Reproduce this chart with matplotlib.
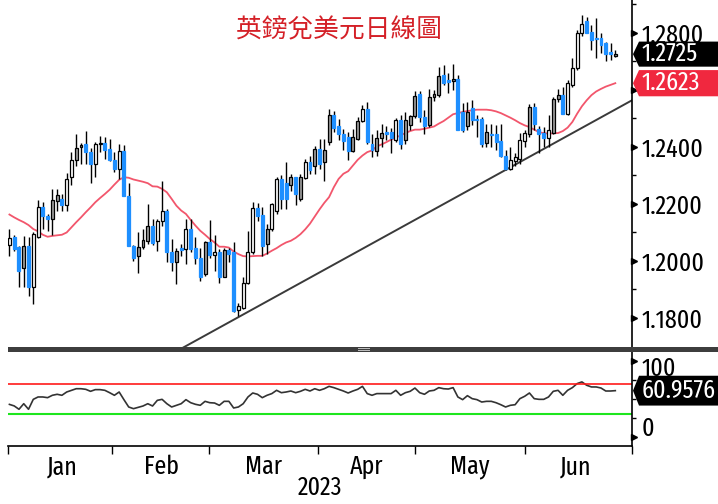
import matplotlib
matplotlib.use('Agg')
import numpy as np
import matplotlib.pyplot as plt
import matplotlib.transforms as mtransforms
from matplotlib import font_manager
from matplotlib.font_manager import FontProperties
from matplotlib.ft2font import FT2Font
from matplotlib.patches import Polygon, Rectangle

# Datos diarios GBP/USD (ene-jun 2023)
opens = [1.2055, 1.2084, 1.2047, 1.1976, 1.2052, 1.1906, 1.2082, 1.2187, 1.2158, 1.2146,
         1.2211, 1.2215, 1.2197, 1.2293, 1.2352, 1.2400, 1.2411, 1.2381, 1.2338, 1.2408,
         1.2414, 1.2393, 1.2354, 1.2322, 1.2385, 1.2228, 1.2052, 1.2017, 1.2047, 1.2070,
         1.2123, 1.2070, 1.2141, 1.2176, 1.2029, 1.1994, 1.2044, 1.2041, 1.2111, 1.2044,
         1.2011, 1.1953, 1.2064, 1.2021, 1.2032, 1.1943, 1.2037, 1.2029, 1.1826, 1.1835,
         1.1920, 1.2029, 1.2185, 1.2162, 1.2058, 1.2111, 1.2176, 1.2287, 1.2272, 1.2267,
         1.2293, 1.2217, 1.2291, 1.2346, 1.2334, 1.2393, 1.2346, 1.2416, 1.2511, 1.2471,
         1.2446, 1.2434, 1.2385, 1.2428, 1.2490, 1.2534, 1.2411, 1.2385, 1.2432, 1.2450,
         1.2451, 1.2422, 1.2495, 1.2422, 1.2475, 1.2507, 1.2584, 1.2504, 1.2475, 1.2573,
         1.2581, 1.2651, 1.2633, 1.2630, 1.2636, 1.2522, 1.2472, 1.2537, 1.2499, 1.2499,
         1.2413, 1.2446, 1.2443, 1.2420, 1.2369, 1.2323, 1.2349, 1.2358, 1.2420, 1.2446,
         1.2539, 1.2463, 1.2448, 1.2432, 1.2448, 1.2566, 1.2583, 1.2516, 1.2616, 1.2675,
         1.2798, 1.2842, 1.2804, 1.2780, 1.2780, 1.2763, 1.2733, 1.2720]
highs = [1.2112, 1.2090, 1.2052, 1.2088, 1.2082, 1.2100, 1.2213, 1.2205, 1.2165, 1.2252,
         1.2252, 1.2235, 1.2307, 1.2381, 1.2443, 1.2412, 1.2455, 1.2395, 1.2416, 1.2436,
         1.2434, 1.2428, 1.2381, 1.2411, 1.2405, 1.2272, 1.2055, 1.2099, 1.2111, 1.2199,
         1.2146, 1.2146, 1.2281, 1.2180, 1.2076, 1.2046, 1.2058, 1.2146, 1.2146, 1.2082,
         1.2046, 1.2070, 1.2143, 1.2091, 1.2041, 1.2046, 1.2044, 1.2064, 1.1853, 1.1941,
         1.2105, 1.2205, 1.2201, 1.2187, 1.2129, 1.2201, 1.2293, 1.2299, 1.2346, 1.2305,
         1.2293, 1.2305, 1.2358, 1.2369, 1.2401, 1.2428, 1.2428, 1.2534, 1.2525, 1.2499,
         1.2463, 1.2451, 1.2463, 1.2504, 1.2546, 1.2557, 1.2446, 1.2457, 1.2481, 1.2471,
         1.2464, 1.2500, 1.2510, 1.2522, 1.2510, 1.2596, 1.2596, 1.2528, 1.2604, 1.2598,
         1.2680, 1.2686, 1.2659, 1.2690, 1.2651, 1.2553, 1.2557, 1.2563, 1.2510, 1.2505,
         1.2481, 1.2481, 1.2475, 1.2478, 1.2389, 1.2399, 1.2378, 1.2448, 1.2457, 1.2551,
         1.2553, 1.2471, 1.2469, 1.2510, 1.2573, 1.2604, 1.2608, 1.2633, 1.2710, 1.2810,
         1.2862, 1.2856, 1.2827, 1.2851, 1.2800, 1.2766, 1.2763, 1.2740]
lows = [1.2015, 1.2035, 1.1906, 1.1906, 1.1876, 1.1847, 1.2078, 1.2111, 1.2105, 1.2091,
        1.2176, 1.2176, 1.2176, 1.2264, 1.2334, 1.2340, 1.2340, 1.2272, 1.2293, 1.2381,
        1.2358, 1.2350, 1.2311, 1.2287, 1.2228, 1.2052, 1.1999, 1.1958, 1.2040, 1.2060,
        1.2055, 1.2035, 1.2123, 1.1994, 1.1964, 1.1917, 1.2017, 1.1988, 1.2029, 1.1988,
        1.1929, 1.1947, 1.2011, 1.1964, 1.1923, 1.1941, 1.1994, 1.1820, 1.1806, 1.1830,
        1.1918, 1.2025, 1.2141, 1.2017, 1.2023, 1.2105, 1.2164, 1.2182, 1.2182, 1.2246,
        1.2197, 1.2211, 1.2287, 1.2305, 1.2305, 1.2323, 1.2281, 1.2405, 1.2451, 1.2422,
        1.2387, 1.2354, 1.2381, 1.2422, 1.2487, 1.2411, 1.2363, 1.2369, 1.2399, 1.2422,
        1.2378, 1.2416, 1.2393, 1.2408, 1.2460, 1.2502, 1.2487, 1.2446, 1.2469, 1.2561,
        1.2575, 1.2616, 1.2589, 1.2600, 1.2457, 1.2451, 1.2460, 1.2475, 1.2434, 1.2399,
        1.2399, 1.2399, 1.2387, 1.2363, 1.2317, 1.2317, 1.2334, 1.2340, 1.2399, 1.2434,
        1.2457, 1.2378, 1.2399, 1.2399, 1.2446, 1.2557, 1.2514, 1.2510, 1.2608, 1.2670,
        1.2788, 1.2798, 1.2739, 1.2710, 1.2728, 1.2701, 1.2704, 1.2715]
closes = [1.2080, 1.2041, 1.1964, 1.2052, 1.1906, 1.2094, 1.2187, 1.2158, 1.2146, 1.2213,
          1.2229, 1.2197, 1.2287, 1.2352, 1.2396, 1.2405, 1.2381, 1.2338, 1.2411, 1.2412,
          1.2387, 1.2354, 1.2322, 1.2385, 1.2228, 1.2052, 1.2011, 1.2049, 1.2073, 1.2123,
          1.2061, 1.2138, 1.2176, 1.2029, 1.1994, 1.2035, 1.2037, 1.2111, 1.2041, 1.2011,
          1.1941, 1.2064, 1.2021, 1.2032, 1.1941, 1.2037, 1.2025, 1.1824, 1.1841, 1.1923,
          1.2029, 1.2185, 1.2158, 1.2052, 1.2111, 1.2199, 1.2287, 1.2217, 1.2217, 1.2293,
          1.2235, 1.2293, 1.2346, 1.2317, 1.2393, 1.2340, 1.2387, 1.2511, 1.2467, 1.2443,
          1.2420, 1.2385, 1.2434, 1.2492, 1.2534, 1.2416, 1.2387, 1.2432, 1.2448, 1.2443,
          1.2432, 1.2495, 1.2411, 1.2493, 1.2507, 1.2577, 1.2504, 1.2471, 1.2573, 1.2584,
          1.2648, 1.2624, 1.2628, 1.2636, 1.2460, 1.2460, 1.2522, 1.2493, 1.2493, 1.2411,
          1.2451, 1.2440, 1.2416, 1.2366, 1.2323, 1.2354, 1.2363, 1.2422, 1.2448, 1.2539,
          1.2481, 1.2446, 1.2432, 1.2460, 1.2569, 1.2583, 1.2516, 1.2622, 1.2675, 1.2798,
          1.2831, 1.2800, 1.2774, 1.2777, 1.2757, 1.2725, 1.2727, 1.2725]
# velas alcistas huecas (el resto de alcistas van en gris)
hollow = [0, 5, 6, 12, 13, 18, 23, 31, 32, 37, 43, 48, 49, 50, 51, 55, 56, 62, 74, 81,
          105, 106, 107, 108, 113, 117, 118, 119, 120]

# media movil de 20 dias
ma20 = [1.2162, 1.2152, 1.2143, 1.2135, 1.2125, 1.2111, 1.2103, 1.2091, 1.2084, 1.2087,
        1.2089, 1.2091, 1.2099, 1.2117, 1.2135, 1.2152, 1.2170, 1.2187, 1.2205, 1.2220,
        1.2234, 1.2249, 1.2267, 1.2284, 1.2293, 1.2291, 1.2285, 1.2281, 1.2277, 1.2272,
        1.2261, 1.2260, 1.2252, 1.2240, 1.2217, 1.2193, 1.2176, 1.2164, 1.2143, 1.2123,
        1.2105, 1.2091, 1.2076, 1.2064, 1.2049, 1.2049, 1.2046, 1.2032, 1.2023, 1.2016,
        1.2015, 1.2016, 1.2017, 1.2017, 1.2025, 1.2035, 1.2044, 1.2055, 1.2064, 1.2070,
        1.2080, 1.2093, 1.2110, 1.2130, 1.2155, 1.2180, 1.2203, 1.2223, 1.2258, 1.2287,
        1.2305, 1.2314, 1.2334, 1.2354, 1.2369, 1.2381, 1.2387, 1.2401, 1.2408, 1.2416,
        1.2425, 1.2432, 1.2440, 1.2448, 1.2455, 1.2460, 1.2460, 1.2463, 1.2467, 1.2471,
        1.2481, 1.2490, 1.2502, 1.2514, 1.2518, 1.2522, 1.2525, 1.2528, 1.2530, 1.2530,
        1.2530, 1.2528, 1.2524, 1.2518, 1.2510, 1.2502, 1.2493, 1.2483, 1.2475, 1.2469,
        1.2460, 1.2451, 1.2448, 1.2446, 1.2447, 1.2448, 1.2455, 1.2467, 1.2487, 1.2516,
        1.2542, 1.2563, 1.2581, 1.2594, 1.2603, 1.2611, 1.2617, 1.2623]

# RSI
rsi = [43.0, 41.0, 36.6, 43.9, 36.6, 49.6, 52.7, 52.7, 51.8, 54.9,
       56.2, 54.9, 59.2, 61.4, 63.5, 63.5, 62.7, 60.1, 62.3, 62.3,
       61.4, 58.3, 54.9, 59.2, 49.2, 39.6, 37.4, 39.1, 40.9, 43.9,
       40.9, 48.3, 49.6, 43.9, 39.6, 41.8, 43.9, 49.2, 45.2, 43.1,
       41.8, 47.0, 45.2, 44.8, 41.8, 47.0, 47.0, 38.3, 39.6, 43.9,
       52.7, 57.9, 56.2, 51.8, 54.9, 57.1, 61.4, 58.3, 59.2, 60.5,
       58.3, 60.1, 62.7, 60.5, 63.5, 61.4, 63.5, 66.6, 64.9, 62.7,
       60.5, 57.9, 60.5, 62.7, 66.6, 57.1, 54.9, 57.1, 57.1, 57.1,
       57.1, 61.4, 54.9, 58.3, 60.1, 64.4, 58.3, 56.2, 60.5, 61.4,
       64.9, 63.5, 63.1, 64.9, 52.7, 49.2, 54.4, 50.5, 49.2, 46.1,
       47.0, 47.0, 45.2, 42.6, 39.6, 41.8, 42.6, 50.5, 53.6, 57.9,
       50.5, 49.6, 49.6, 52.7, 60.1, 61.4, 54.9, 61.4, 64.9, 70.2,
       72.4, 68.0, 65.8, 65.8, 64.4, 60.5, 60.5, 60.9576]

months = ['Jan', 'Feb', 'Mar', 'Apr', 'May', 'Jun']
month_mid = [11.0, 31.8, 53.2, 74.8, 96.4, 118.6]
month_breaks = [21.5, 41.9, 64.7, 85.1, 108.1]
trend_x = [36.2, 130.5]
trend_y = [1.1693, 1.2563]
price_ticks = [1.18, 1.20, 1.22, 1.24, 1.26, 1.28]
price_labels = ['1.1800', '1.2000', '1.2200', '1.2400', '', '1.2800']


# buscar la fuente mas estrecha disponible para los numeros
def text_box(fname, s):
    f = FT2Font(fname)
    f.set_size(100, 72)
    f.set_text(s, 0.0)
    w, h = f.get_width_height()
    return w / 6400.0, h / 6400.0


best = None
for f in font_manager.fontManager.ttflist:
    if f.style != 'normal' or f.weight not in (400, 'normal', 'regular', 'book'):
        continue
    if not any(k in f.name for k in ('Sans', 'Roboto', 'Lato', 'Inter')):
        continue
    if 'Mono' in f.name or 'CJK' in f.name:
        continue
    try:
        fw, fh = text_box(f.fname, '1.2400')
    except Exception:
        continue
    if fh <= 0:
        continue
    r = fw / fh
    if best is None or abs(r - 3.45) < abs(best[0] - 3.45):
        best = (r, f.fname, fw, fh)

if best is not None:
    NUM_FILE = best[1]
    NUM_SIZE = min(18 / best[3], 63 / best[2]) * 0.72
else:
    NUM_FILE = None
    NUM_SIZE = 15


def num_font(scale=1.0):
    if NUM_FILE:
        return FontProperties(fname=NUM_FILE, size=NUM_SIZE * scale)
    return FontProperties(family='Liberation Sans', size=NUM_SIZE * scale)


W, H = 718, 504
fig = plt.figure(figsize=(W / 100, H / 100), dpi=100)
ax = fig.add_axes([8 / W, 1 - 347 / H, 624 / W, 347 / H])
ax2 = fig.add_axes([8 / W, 1 - 446 / H, 624 / W, 94 / H], sharex=ax)

x = np.arange(len(closes))
o, hi, lo, c = (np.array(v) for v in (opens, highs, lows, closes))
up = c >= o
face = np.where(~up, '#1e8fff', np.where(np.isin(x, hollow), 'white', '#9c9c9c'))
edge = np.where(~up, '#1e8fff', 'black')

ax.vlines(x, lo, hi, color='black', lw=1.0, zorder=2)
ax.bar(x, np.maximum(np.abs(c - o), 0.0003), bottom=np.minimum(o, c), width=0.62,
       color=face, edgecolor=edge, linewidth=0.9, zorder=3)
ax.plot(x, ma20, color='#f2566c', lw=1.3, zorder=1)
ax.plot(trend_x, trend_y, color='#3a3a3a', lw=1.4, zorder=1)

ax.set_xlim(-0.3, 130.5)
ax.set_ylim(1.1697, 1.2915)
ax.yaxis.tick_right()
ax.set_yticks(price_ticks)
ax.set_yticklabels(price_labels, fontproperties=num_font())
ax.set_yticks(np.arange(1.19, 1.2901, 0.02), minor=True)
ax.tick_params(axis='y', which='major', length=0, pad=7)
ax.tick_params(axis='y', which='minor', length=3, width=1, color='black')
ax.tick_params(axis='x', which='both', length=0, labelbottom=False)
for s in ['top', 'left', 'bottom']:
    ax.spines[s].set_visible(False)
ax.spines['right'].set_linewidth(1.2)

ax.text(0.53, 0.912, '英鎊兌美元日線圖', transform=ax.transAxes, ha='center', va='center',
        fontsize=18.5, color='#d42027', family=['Noto Sans CJK TC', 'DejaVu Sans'])

tr = mtransforms.blended_transform_factory(ax.transAxes, ax.transData)
ax.plot([1.004] * len(price_ticks), price_ticks, ls='none', marker='>', ms=4.5,
        color='black', transform=tr, clip_on=False)


def value_tag(axis, value, text, color, half):
    t = mtransforms.blended_transform_factory(axis.transAxes, axis.transData)
    x0, x1, x2 = 1 + 1 / 624, 1 + 7 / 624, 1 + 95 / 624
    pts = [(x0, value), (x1, value + half), (x2, value + half), (x2, value - half), (x1, value - half)]
    axis.add_patch(Polygon(pts, closed=True, transform=t, facecolor=color, edgecolor='none',
                           clip_on=False, zorder=10))
    axis.text(1 + 10 / 624, value, text, transform=t, color='white', va='center', ha='left',
              fontproperties=num_font(), clip_on=False, zorder=11)


value_tag(ax, closes[-1], '%.4f' % closes[-1], 'black', 0.0044)
value_tag(ax, ma20[-1], '%.4f' % ma20[-1], '#f0283f', 0.0046)

# panel RSI
ax2.plot(x, rsi, color='#333333', lw=1.2)
ax2.axhline(70, color='#ff1a1a', lw=1.2)
ax2.axhline(30, color='#1ee61e', lw=1.5)
ax2.set_ylim(-11.4, 111.5)
ax2.yaxis.tick_right()
ax2.set_yticks([0, 100])
ax2.set_yticklabels([])
ax2.set_yticks([25, 50, 75], minor=True)
ax2.tick_params(axis='y', which='major', length=0)
ax2.tick_params(axis='y', which='minor', length=3, width=1, color='black')
tr2 = mtransforms.blended_transform_factory(ax2.transAxes, ax2.transData)
ax2.plot([1.004] * 2, [0, 100], ls='none', marker='>', ms=4.5, color='black',
         transform=tr2, clip_on=False)
# etiquetas desplazadas hacia dentro, como en el original
ax2.text(1 + 10 / 624, 89, '100', transform=tr2, va='center', ha='left',
         fontproperties=num_font(), clip_on=False)
ax2.text(1 + 10 / 624, 11, '0', transform=tr2, va='center', ha='left',
         fontproperties=num_font(), clip_on=False)
value_tag(ax2, rsi[-1], '%.4f' % rsi[-1], 'black', 19.5)

ax2.set_xticks([-0.3] + month_breaks + [130.5])
ax2.set_xticklabels([''] * 7)
ax2.set_xticks(month_mid, minor=True)
ax2.set_xticklabels(months, minor=True, fontproperties=num_font())
ax2.tick_params(axis='x', which='major', length=6, width=1, direction='out')
ax2.tick_params(axis='x', which='minor', length=0, pad=6)
ax2.set_xlabel('2023', fontproperties=num_font(), labelpad=-3)
for s in ['top', 'left']:
    ax2.spines[s].set_visible(False)
ax2.spines['right'].set_linewidth(1.2)
ax2.spines['bottom'].set_linewidth(1.2)

# barra separadora entre paneles
fig.add_artist(Rectangle((8 / W, 1 - 352 / H), 1 - 8 / W, 5 / H, transform=fig.transFigure,
                         facecolor='#3d3d3d', edgecolor='none', zorder=5))
fig.add_artist(Rectangle((358 / W, 1 - 350.5 / H), 12 / W, 0.6 / H, transform=fig.transFigure,
                         facecolor='#bbbbbb', edgecolor='none', zorder=6))
fig.add_artist(Rectangle((358 / W, 1 - 348.8 / H), 12 / W, 0.6 / H, transform=fig.transFigure,
                         facecolor='#bbbbbb', edgecolor='none', zorder=6))

fig.savefig('out.png', dpi=100)
